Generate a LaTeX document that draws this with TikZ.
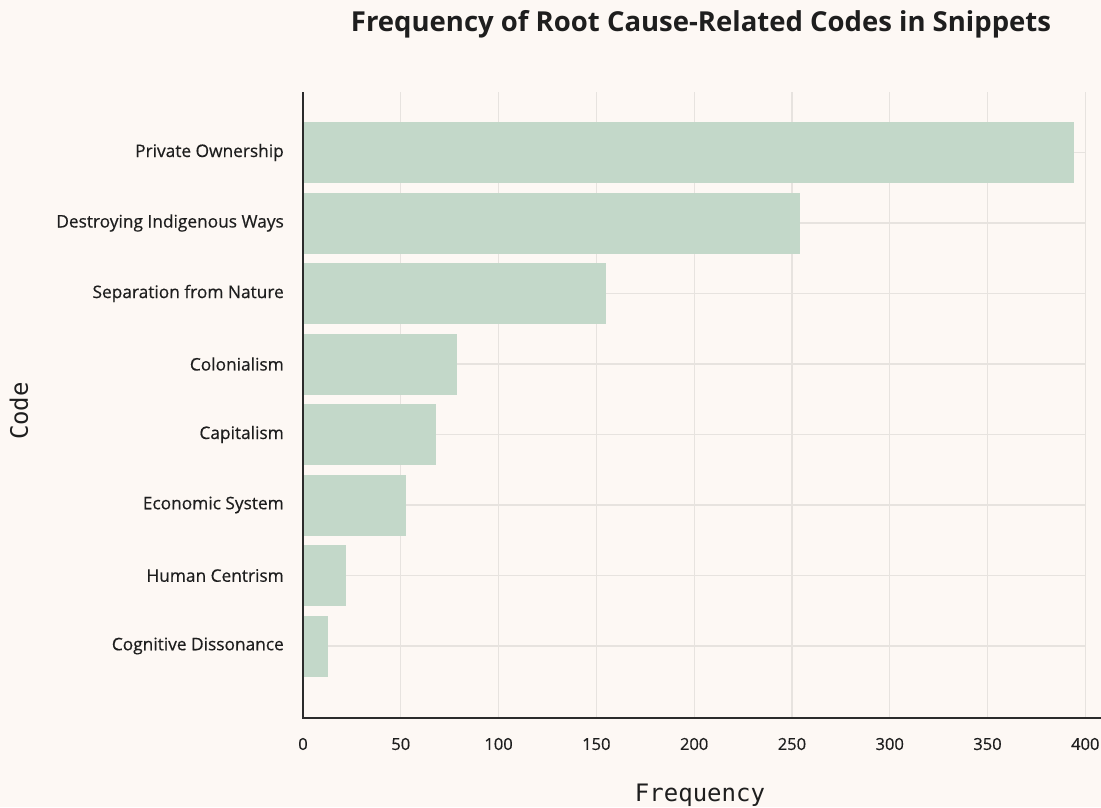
\documentclass[tikz,border=0pt]{standalone}
\usepackage{fontspec}
\setmainfont{Open Sans}
\newfontfamily\medf{Open Sans}[FakeBold=0.5]
\newfontfamily\monof{DejaVu Sans Mono}
\definecolor{bgc}{HTML}{FDF8F4}
\definecolor{barc}{HTML}{C3D8C9}
\definecolor{gridc}{HTML}{E7E3DF}
\definecolor{axc}{HTML}{2B2B2B}
\definecolor{txc}{HTML}{1E1E1E}
\begin{document}
\begin{tikzpicture}[x=1pt,y=-1pt,
  gridline/.style={draw=gridc,line width=1.2pt},
  axisline/.style={draw=axc,line width=1.3pt},
  barbox/.style={fill=barc},
  catlabel/.style={anchor=east,text=txc,font=\medf\fontsize{17.3}{19}\selectfont,inner sep=0pt},
  ticklabel/.style={anchor=center,text=txc,font=\medf\fontsize{16.5}{18}\selectfont,inner sep=0pt},
  axtitle/.style={text=txc,font=\monof\fontsize{24}{27}\selectfont,inner sep=0pt},
  ttl/.style={text=txc,font=\bfseries\fontsize{27.5}{31}\selectfont,inner sep=0pt}]
\fill[bgc] (0,0) rectangle (1101,807);
\useasboundingbox (0,0) rectangle (1101,807);
% vertical grid
\foreach \v/\lab in {0/0,50/50,100/100,150/150,200/200,250/250,300/300,350/350,400/400}{
  \pgfmathsetmacro{\xx}{303+\v*1.9557}
  \draw[gridline] (\xx,92) -- (\xx,718);
  \node[ticklabel] (t\v) at (\xx,744) {\lab};
}
% horizontal grid and bars
\foreach \i/\xe/\lab in {0/1074/Private Ownership,1/800/Destroying Indigenous Ways,2/606/Separation from Nature,3/457/Colonialism,4/436/Capitalism,5/406/Economic System,6/346/Human Centrism,7/328/Cognitive Dissonance}{
  \pgfmathsetmacro{\yy}{152.5+\i*70.5}
  \draw[gridline] (303,\yy) -- (1085.3,\yy);
  \fill[barbox] (303,\yy-30.5) rectangle (\xe,\yy+30.5);
  \node[catlabel] (c\i) at (284,\yy) {\lab};
}
\draw[axisline] (303,92) -- (303,718) -- (1101,718);
\node[ttl] (title) at (701,24) {Frequency of Root Cause-Related Codes in Snippets};
\node[axtitle] (xlab) at (700,795) {Frequency};
\node[axtitle,rotate=90] (ylab) at (19,411) {Code};
\end{tikzpicture}
\end{document}
